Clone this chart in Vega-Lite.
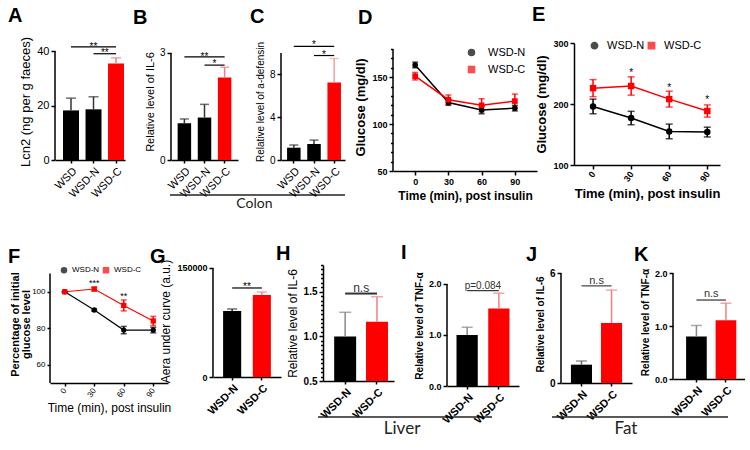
{
"$schema":"https://vega.github.io/schema/vega-lite/v6.json",
"padding":{"left":8,"top":5,"right":0,"bottom":0},
"background":"white",
"spacing":31,
"resolve":{"scale":{"color":"independent","fill":"independent","stroke":"independent","shape":"independent"},"legend":{"color":"independent","shape":"independent"}},
"config":{"font":"Liberation Sans","view":{"stroke":null},
 "axis":{"domainColor":"black","tickColor":"black","labelColor":"black","titleColor":"black","grid":false,"domainWidth":1.5,"tickWidth":1.5,"tickSize":4,"labelFontSize":10,"titleFontWeight":"normal","titleFontSize":12,"labelPadding":2,"titlePadding":4,"labelFont":"Liberation Sans","titleFont":"Liberation Sans"},
 "title":{"fontSize":20,"fontWeight":"bold","anchor":"start","frame":"group","color":"black","baseline":"alphabetic","font":"Liberation Sans"},
 "legend":{"labelFont":"Liberation Sans","labelColor":"black"},
 "text":{"font":"Liberation Sans","color":"#000"}},
"vconcat":[
{"bounds":"flush","spacing":0,
 "resolve":{"scale":{"color":"independent","fill":"independent","stroke":"independent","shape":"independent"},"legend":{"color":"independent","shape":"independent"}},
 "hconcat":[
 {"width":5,"height":1,"data":{"values":[]},"mark":"point"},
 {"width":70,"height":117,"title":{"text":"A","dx":-47,"offset":10},
  "data":{"values":[{"g":"WSD","v":18.2,"hi":22.7},{"g":"WSD-N","v":18.6,"hi":23.2},{"g":"WSD-C","v":35.4,"hi":37.5}]},
  "encoding":{"x":{"field":"g","type":"nominal","title":null,"scale":{"domain":["WSD","WSD-N","WSD-C"],"paddingInner":0.29,"paddingOuter":0.2,"align":0.89},"axis":{"labelAngle":-45,"labelFontSize":11,"tickSize":3}}},
  "layer":[
   {"mark":"bar","encoding":{"y":{"field":"v","type":"quantitative","scale":{"domain":[0,42.94],"nice":false},"axis":{"values":[0,10,20,30,40],"domain":false,"title":"Lcn2 (ng per g faeces)","titleFontSize":13,"labelFontSize":11}},"fill":{"field":"g","type":"nominal","scale":{"domain":["WSD","WSD-N","WSD-C"],"range":["#000","#000","#f00"]},"legend":null}}},
   {"mark":{"type":"rule","strokeWidth":1.5},"encoding":{"y":{"field":"v","type":"quantitative"},"y2":{"field":"hi"},"stroke":{"field":"g","type":"nominal","scale":{"domain":["WSD","WSD-N","WSD-C"],"range":["#333","#333","#f08080"]},"legend":null}}},
   {"mark":{"type":"tick","thickness":1.5,"size":10},"encoding":{"y":{"field":"hi","type":"quantitative"},"color":{"field":"g","type":"nominal","scale":{"domain":["WSD","WSD-N","WSD-C"],"range":["#333","#333","#f08080"]},"legend":null}}},
   {"data":{"values":[{"g":"WSD","y0":0,"y1":40}]},"mark":{"type":"rule","strokeWidth":1.5,"color":"#000"},"encoding":{"x":{"field":"g","type":"nominal","bandPosition":-0.501},"y":{"field":"y0","type":"quantitative"},"y2":{"field":"y1"}}},
   {"data":{"values":[{"from":"WSD","to":"WSD-C","y":41.5},{"from":"WSD-N","to":"WSD-C","y":39}]},"mark":{"type":"rule","strokeWidth":1.2,"color":"#000"},"encoding":{"x":{"field":"from","type":"nominal"},"x2":{"field":"to"},"y":{"field":"y","type":"quantitative"}}},
   {"data":{"values":[{"at":"WSD-N","ty":41.6,"lab":"**"}]},"mark":{"type":"text","fontSize":10,"baseline":"middle","color":"#000"},"encoding":{"x":{"field":"at","type":"nominal"},"y":{"field":"ty","type":"quantitative"},"text":{"field":"lab"}}},
   {"data":{"values":[{"at":"WSD-C","ty":39.1,"lab":"**"}]},"mark":{"type":"text","fontSize":10,"baseline":"middle","color":"#000"},"encoding":{"x":{"field":"at","type":"nominal","bandPosition":-0.2},"y":{"field":"ty","type":"quantitative"},"text":{"field":"lab"}}}
  ]},
 {"width":46,"height":1,"data":{"values":[]},"mark":"point"},
 {"width":67,"height":117,"title":{"text":"B","dx":-38,"offset":15},
  "data":{"values":[{"g":"WSD","v":1.03,"hi":1.15},{"g":"WSD-N","v":1.19,"hi":1.56},{"g":"WSD-C","v":2.31,"hi":2.6}]},
  "encoding":{"x":{"field":"g","type":"nominal","title":null,"scale":{"domain":["WSD","WSD-N","WSD-C"],"paddingInner":0.33,"paddingOuter":0.33},"axis":{"labelAngle":-45,"labelFontSize":11,"tickSize":3}}},
  "layer":[
   {"mark":"bar","encoding":{"y":{"field":"v","type":"quantitative","scale":{"domain":[0,3.28],"nice":false},"axis":{"values":[0,1,2,3],"domain":false,"title":"Relative level of IL-6","titleFontSize":11}},"fill":{"field":"g","type":"nominal","scale":{"domain":["WSD","WSD-N","WSD-C"],"range":["#000","#000","#f00"]},"legend":null}}},
   {"mark":{"type":"rule","strokeWidth":1.5},"encoding":{"y":{"field":"v","type":"quantitative"},"y2":{"field":"hi"},"stroke":{"field":"g","type":"nominal","scale":{"domain":["WSD","WSD-N","WSD-C"],"range":["#333","#333","#f08080"]},"legend":null}}},
   {"mark":{"type":"tick","thickness":1.5,"size":9},"encoding":{"y":{"field":"hi","type":"quantitative"},"color":{"field":"g","type":"nominal","scale":{"domain":["WSD","WSD-N","WSD-C"],"range":["#333","#333","#f08080"]},"legend":null}}},
   {"data":{"values":[{"g":"WSD","y0":0,"y1":3}]},"mark":{"type":"rule","strokeWidth":1.5,"color":"#000"},"encoding":{"x":{"field":"g","type":"nominal","bandPosition":-0.4925},"y":{"field":"y0","type":"quantitative"},"y2":{"field":"y1"}}},
   {"data":{"values":[{"from":"WSD","to":"WSD-C","y":2.89},{"from":"WSD-N","to":"WSD-C","y":2.66}]},"mark":{"type":"rule","strokeWidth":1.2,"color":"#000"},"encoding":{"x":{"field":"from","type":"nominal"},"x2":{"field":"to"},"y":{"field":"y","type":"quantitative"}}},
   {"data":{"values":[{"at":"WSD-N","ty":2.9,"lab":"**"}]},"mark":{"type":"text","fontSize":10,"baseline":"middle","color":"#000"},"encoding":{"x":{"field":"at","type":"nominal"},"y":{"field":"ty","type":"quantitative"},"text":{"field":"lab"}}},
   {"data":{"values":[{"at":"WSD-C","ty":2.68,"lab":"*"}]},"mark":{"type":"text","fontSize":10,"baseline":"middle","color":"#000"},"encoding":{"x":{"field":"at","type":"nominal","bandPosition":-0.25},"y":{"field":"ty","type":"quantitative"},"text":{"field":"lab"}}},
   {"data":{"values":[{"a":"WSD","y":-0.981}]},"mark":{"type":"rule","strokeWidth":1.5,"color":"#222"},"encoding":{"x":{"field":"a","type":"nominal","bandPosition":-0.567},"x2":{"field":"a","bandPosition":12.415},"y":{"field":"y","type":"quantitative"}}},
   {"data":{"values":[{"a":"WSD","y":-1.234,"lab":"Colon"}]},"mark":{"type":"text","fontSize":14,"font":"Lato","color":"#222","baseline":"middle"},"encoding":{"x":{"field":"a","type":"nominal","bandPosition":5.70},"y":{"field":"y","type":"quantitative"},"text":{"field":"lab"}}}
  ]},
 {"width":43,"height":1,"data":{"values":[]},"mark":"point"},
 {"width":64,"height":117,"title":{"text":"C","dx":-31,"offset":13},
  "data":{"values":[{"g":"WSD","v":1.15,"hi":1.4},{"g":"WSD-N","v":1.5,"hi":1.86},{"g":"WSD-C","v":7.25,"hi":9.48}]},
  "encoding":{"x":{"field":"g","type":"nominal","title":null,"scale":{"domain":["WSD","WSD-N","WSD-C"],"paddingInner":0.33,"paddingOuter":0.25,"align":0.6},"axis":{"labelAngle":-45,"labelFontSize":11,"tickSize":3}}},
  "layer":[
   {"mark":"bar","encoding":{"y":{"field":"v","type":"quantitative","scale":{"domain":[0,10.93],"nice":false},"axis":{"values":[0,2,4,6,8,10],"domain":false,"title":"Relative level of a-defensin","titleFontSize":10}},"fill":{"field":"g","type":"nominal","scale":{"domain":["WSD","WSD-N","WSD-C"],"range":["#000","#000","#f00"]},"legend":null}}},
   {"mark":{"type":"rule","strokeWidth":1.5},"encoding":{"y":{"field":"v","type":"quantitative"},"y2":{"field":"hi"},"stroke":{"field":"g","type":"nominal","scale":{"domain":["WSD","WSD-N","WSD-C"],"range":["#333","#333","#f4a0a0"]},"legend":null}}},
   {"mark":{"type":"tick","thickness":1.5,"size":9},"encoding":{"y":{"field":"hi","type":"quantitative"},"color":{"field":"g","type":"nominal","scale":{"domain":["WSD","WSD-N","WSD-C"],"range":["#333","#333","#f4a0a0"]},"legend":null}}},
   {"data":{"values":[{"g":"WSD","y0":0,"y1":10}]},"mark":{"type":"rule","strokeWidth":1.5,"color":"#000"},"encoding":{"x":{"field":"g","type":"nominal","bandPosition":-0.448},"y":{"field":"y0","type":"quantitative"},"y2":{"field":"y1"}}},
   {"data":{"values":[{"from":"WSD","to":"WSD-C","y":10.62},{"from":"WSD-N","to":"WSD-C","y":9.76}]},"mark":{"type":"rule","strokeWidth":1.2,"color":"#000"},"encoding":{"x":{"field":"from","type":"nominal"},"x2":{"field":"to"},"y":{"field":"y","type":"quantitative"}}},
   {"data":{"values":[{"at":"WSD-N","ty":10.7,"lab":"*"}]},"mark":{"type":"text","fontSize":10,"baseline":"middle","color":"#000"},"encoding":{"x":{"field":"at","type":"nominal"},"y":{"field":"ty","type":"quantitative"},"text":{"field":"lab"}}},
   {"data":{"values":[{"at":"WSD-C","ty":9.85,"lab":"*"}]},"mark":{"type":"text","fontSize":10,"baseline":"middle","color":"#000"},"encoding":{"x":{"field":"at","type":"nominal","bandPosition":-0.25},"y":{"field":"ty","type":"quantitative"},"text":{"field":"lab"}}}
  ]},
 {"width":48,"height":1,"data":{"values":[]},"mark":"point"},
 {"width":144,"height":128,"title":{"text":"D","dx":-35,"offset":15},
  "data":{"values":[
   {"t":0,"s":"WSD-N","m":163,"lo":160,"hi":166},{"t":30,"s":"WSD-N","m":123,"lo":120,"hi":126},{"t":60,"s":"WSD-N","m":115,"lo":111,"hi":119},{"t":90,"s":"WSD-N","m":117,"lo":114,"hi":120},
   {"t":0,"s":"WSD-C","m":151,"lo":147,"hi":155},{"t":30,"s":"WSD-C","m":126,"lo":121,"hi":131},{"t":60,"s":"WSD-C","m":120,"lo":113,"hi":127},{"t":90,"s":"WSD-C","m":124.5,"lo":117,"hi":132}]},
  "encoding":{"x":{"field":"t","type":"quantitative","scale":{"domain":[-20,110],"nice":false},"axis":{"values":[0,30,60,90],"title":"Time (min), post insulin","labelAngle":0,"labelFontWeight":"bold","labelFontSize":9,"titleFontWeight":"bold","titleFontSize":12,"tickSize":4}},
   "color":{"field":"s","type":"nominal","scale":{"domain":["WSD-N","WSD-C"],"range":["#000","#f00"]},"legend":{"orient":"none","legendX":73,"legendY":4,"title":null,"padding":0,"labelFontSize":11,"symbolSize":36,"labelOffset":11,"rowPadding":4}}},
  "layer":[
   {"mark":{"type":"line","strokeWidth":1.5},"encoding":{"y":{"field":"m","type":"quantitative","scale":{"domain":[50,186.4],"nice":false},"axis":{"orient":"left","values":[50,100,150],"domain":false,"title":"Glucose (mg/dl)","titleFontWeight":"bold","titleFontSize":13,"labelFontWeight":"bold","labelFontSize":9}}}},
   {"mark":{"type":"rule","strokeWidth":1.5},"encoding":{"y":{"field":"lo","type":"quantitative","axis":{"orient":"left","values":[60,70,80,90,110,120,130,140,160,170,180],"labels":false,"domain":false,"tickSize":2.5,"title":null}},"y2":{"field":"hi"}}},
   {"data":{"values":[{"t":-20,"y0":50,"y1":180}]},"mark":{"type":"rule","strokeWidth":1.5},"encoding":{"y":{"field":"y0","type":"quantitative","axis":null},"y2":{"field":"y1"},"color":{"value":"#000"}}},
   {"mark":{"type":"tick","thickness":1.5,"size":6,"orient":"horizontal"},"encoding":{"y":{"field":"lo","type":"quantitative","axis":null}}},
   {"mark":{"type":"tick","thickness":1.5,"size":6,"orient":"horizontal"},"encoding":{"y":{"field":"hi","type":"quantitative","axis":null}}},
   {"mark":{"type":"point","filled":true,"size":32,"opacity":1},"encoding":{"y":{"field":"m","type":"quantitative","axis":null},
     "shape":{"field":"s","type":"nominal","scale":{"domain":["WSD-N","WSD-C"],"range":["circle","square"]},"legend":{"orient":"none","legendX":73,"legendY":4,"title":null,"padding":0,"labelFontSize":11,"symbolSize":36,"labelOffset":11,"rowPadding":4}}}}
  ],
  "resolve":{"axis":{"y":"independent"}}},
 {"width":37,"height":1,"data":{"values":[]},"mark":"point"},
 {"width":146,"height":122,"title":{"text":"E","dx":-42,"offset":14},
  "data":{"values":[
   {"t":0,"s":"WSD-N","m":196,"lo":184,"hi":208},{"t":30,"s":"WSD-N","m":177,"lo":166,"hi":188},{"t":60,"s":"WSD-N","m":155,"lo":143,"hi":167},{"t":90,"s":"WSD-N","m":154,"lo":146,"hi":162},
   {"t":0,"s":"WSD-C","m":226,"lo":212,"hi":240},{"t":30,"s":"WSD-C","m":229.5,"lo":214.5,"hi":244.5},{"t":60,"s":"WSD-C","m":208,"lo":195,"hi":221},{"t":90,"s":"WSD-C","m":188.5,"lo":178.5,"hi":198.5}]},
  "encoding":{"x":{"field":"t","type":"quantitative","scale":{"domain":[-15,100],"nice":false},"axis":{"values":[0,30,60,90],"title":"Time (min), post insulin","labelAngle":-55,"labelFontWeight":"bold","labelFontSize":9,"titleFontWeight":"bold","titleFontSize":13,"tickSize":4,"labelPadding":3}},
   "color":{"field":"s","type":"nominal","scale":{"domain":["WSD-N","WSD-C"],"range":["#000","#f00"]},"legend":{"orient":"none","legendX":15,"legendY":-3,"direction":"horizontal","title":null,"padding":0,"labelFontSize":11,"symbolSize":40,"labelOffset":7,"columnPadding":0}}},
  "layer":[
   {"mark":{"type":"line","strokeWidth":1.5},"encoding":{"y":{"field":"m","type":"quantitative","scale":{"domain":[100,300],"nice":false},"axis":{"values":[100,150,200,250,300],"title":"Glucose (mg/dl)","titleFontWeight":"bold","titleFontSize":13,"labelFontWeight":"bold","labelFontSize":9}}}},
   {"mark":{"type":"rule","strokeWidth":1.5},"encoding":{"y":{"field":"lo","type":"quantitative"},"y2":{"field":"hi"}}},
   {"mark":{"type":"tick","thickness":1.5,"size":7,"orient":"horizontal"},"encoding":{"y":{"field":"lo","type":"quantitative"}}},
   {"mark":{"type":"tick","thickness":1.5,"size":7,"orient":"horizontal"},"encoding":{"y":{"field":"hi","type":"quantitative"}}},
   {"mark":{"type":"point","filled":true,"size":42,"opacity":1},"encoding":{"y":{"field":"m","type":"quantitative"},
     "shape":{"field":"s","type":"nominal","scale":{"domain":["WSD-N","WSD-C"],"range":["circle","square"]},"legend":{"orient":"none","legendX":15,"legendY":-3,"direction":"horizontal","title":null,"padding":0,"labelFontSize":11,"symbolSize":40,"labelOffset":7,"columnPadding":0}}}},
   {"data":{"values":[{"t":30,"y":251,"lab":"*"},{"t":60,"y":226,"lab":"*"},{"t":90,"y":206,"lab":"*"}]},"mark":{"type":"text","fontSize":10,"baseline":"middle","color":"#000"},"encoding":{"y":{"field":"y","type":"quantitative"},"text":{"field":"lab"},"color":{"value":"#000"}}}
  ]}
]},
{"bounds":"flush","spacing":0,
 "resolve":{"scale":{"color":"independent","fill":"independent","stroke":"independent","shape":"independent"},"legend":{"color":"independent","shape":"independent"}},
 "hconcat":[
 {"width":118,"height":118,"title":{"text":"F","dx":-42,"offset":-2},
  "data":{"values":[
   {"t":0,"s":"WSD-N","m":100,"lo":100,"hi":100},{"t":30,"s":"WSD-N","m":90,"lo":89.4,"hi":90.6},{"t":60,"s":"WSD-N","m":79,"lo":77,"hi":81},{"t":90,"s":"WSD-N","m":79,"lo":77.5,"hi":80.5},
   {"t":0,"s":"WSD-C","m":100,"lo":100,"hi":100},{"t":30,"s":"WSD-C","m":101.5,"lo":100.5,"hi":102.5},{"t":60,"s":"WSD-C","m":92.5,"lo":89.5,"hi":95.5},{"t":90,"s":"WSD-C","m":84,"lo":81.5,"hi":86.5}]},
  "encoding":{"x":{"field":"t","type":"quantitative","scale":{"domain":[-15,105],"nice":false},"axis":{"values":[0,30,60,90],"title":"Time (min), post insulin","labelAngle":-55,"labelFontSize":8,"titleFontSize":12,"tickSize":3,"labelPadding":3}},
   "color":{"field":"s","type":"nominal","scale":{"domain":["WSD-N","WSD-C"],"range":["#000","#f00"]},"legend":{"orient":"none","legendX":10,"legendY":1,"direction":"horizontal","title":null,"padding":0,"labelFontSize":8,"symbolSize":25,"labelOffset":4,"columnPadding":0}}},
  "layer":[
   {"mark":{"type":"line","strokeWidth":1.2},"encoding":{"y":{"field":"m","type":"quantitative","scale":{"domain":[50,114.66],"nice":false},"axis":{"values":[60,80,100],"domain":false,"title":["Percentage of initial","glucose level"],"titleFontWeight":"bold","titleFontSize":11,"titleLineHeight":11,"labelFontSize":8,"tickSize":3,"titlePadding":0}}}},
   {"mark":{"type":"rule","strokeWidth":1.5},"encoding":{"y":{"field":"lo","type":"quantitative"},"y2":{"field":"hi"}}},
   {"data":{"values":[{"t":-15,"y0":50,"y1":110}]},"mark":{"type":"rule","strokeWidth":1.5},"encoding":{"y":{"field":"y0","type":"quantitative"},"y2":{"field":"y1"},"color":{"value":"#000"}}},
   {"mark":{"type":"tick","thickness":1.5,"size":6,"orient":"horizontal"},"encoding":{"y":{"field":"lo","type":"quantitative"}}},
   {"mark":{"type":"tick","thickness":1.5,"size":6,"orient":"horizontal"},"encoding":{"y":{"field":"hi","type":"quantitative"}}},
   {"mark":{"type":"point","filled":true,"size":28,"opacity":1},"encoding":{"y":{"field":"m","type":"quantitative"},
     "shape":{"field":"s","type":"nominal","scale":{"domain":["WSD-N","WSD-C"],"range":["circle","square"]},"legend":{"orient":"none","legendX":10,"legendY":1,"direction":"horizontal","title":null,"padding":0,"labelFontSize":8,"symbolSize":25,"labelOffset":4,"columnPadding":0}}}},
   {"data":{"values":[{"t":30,"y":105,"lab":"***"},{"t":60,"y":97.6,"lab":"**"}]},"mark":{"type":"text","fontSize":9,"baseline":"middle","color":"#000"},"encoding":{"y":{"field":"y","type":"quantitative"},"text":{"field":"lab"},"color":{"value":"#000"}}}
  ]},
 {"width":45,"height":1,"data":{"values":[]},"mark":"point"},
 {"width":68,"height":112,"title":{"text":"G","dx":-63,"offset":-8},
  "data":{"values":[{"g":"WSD-N","v":90800,"hi":93600},{"g":"WSD-C","v":113000,"hi":117000}]},
  "encoding":{"x":{"field":"g","type":"nominal","title":null,"scale":{"domain":["WSD-N","WSD-C"],"paddingInner":0.39,"paddingOuter":0.34},"axis":{"labelAngle":-45,"labelFontSize":11,"labelFontWeight":"bold","tickSize":3}}},
  "layer":[
   {"mark":"bar","encoding":{"y":{"field":"v","type":"quantitative","scale":{"domain":[0,154128],"nice":false},"axis":{"values":[0,50000,100000,150000],"domain":false,"format":"d","title":"Aera under curve (a.u.)","titleFontSize":12,"labelFontWeight":"bold","labelFontSize":9}},"fill":{"field":"g","type":"nominal","scale":{"domain":["WSD-N","WSD-C"],"range":["#000","#f00"]},"legend":null}}},
   {"mark":{"type":"rule","strokeWidth":1.5},"encoding":{"y":{"field":"v","type":"quantitative"},"y2":{"field":"hi"},"stroke":{"field":"g","type":"nominal","scale":{"domain":["WSD-N","WSD-C"],"range":["#333","#f08080"]},"legend":null}}},
   {"mark":{"type":"tick","thickness":1.5,"size":10},"encoding":{"y":{"field":"hi","type":"quantitative"},"color":{"field":"g","type":"nominal","scale":{"domain":["WSD-N","WSD-C"],"range":["#333","#f08080"]},"legend":null}}},
   {"data":{"values":[{"g":"WSD-N","y0":0,"y1":150000}]},"mark":{"type":"rule","strokeWidth":1.5,"color":"#000"},"encoding":{"x":{"field":"g","type":"nominal","bandPosition":-0.558},"y":{"field":"y0","type":"quantitative"},"y2":{"field":"y1"}}},
   {"data":{"values":[{"from":"WSD-N","to":"WSD-C","y":122500}]},"mark":{"type":"rule","strokeWidth":1.2,"color":"#000"},"encoding":{"x":{"field":"from","type":"nominal"},"x2":{"field":"to"},"y":{"field":"y","type":"quantitative"}}},
   {"data":{"values":[{"at":"WSD-C","ty":123500,"lab":"**"}]},"mark":{"type":"text","fontSize":10,"baseline":"middle","color":"#000"},"encoding":{"x":{"field":"at","type":"nominal","bandPosition":-0.32},"y":{"field":"ty","type":"quantitative"},"text":{"field":"lab"}}}
  ]},
 {"width":42,"height":1,"data":{"values":[]},"mark":"point"},
 {"width":71,"height":116,"title":{"text":"H","dx":-47,"offset":0},
  "data":{"values":[{"g":"WSD-N","v":1.0,"hi":1.27},{"g":"WSD-C","v":1.165,"hi":1.445}]},
  "encoding":{"x":{"field":"g","type":"nominal","title":null,"scale":{"domain":["WSD-N","WSD-C"],"paddingInner":0.31,"paddingOuter":0.27,"align":0.65},"axis":{"labelAngle":-45,"labelFontSize":11,"labelFontWeight":"bold","tickSize":3}}},
  "layer":[
   {"mark":"bar","encoding":{"y":{"field":"v","type":"quantitative","scale":{"domain":[0.5,1.8],"zero":false,"nice":false},"axis":{"orient":"left","values":[0.5,1.0,1.5],"format":".1f","title":"Relative level of IL-6","titleFontSize":12,"labelFontWeight":"bold","labelFontSize":10}},"y2":{"datum":0.5},"fill":{"field":"g","type":"nominal","scale":{"domain":["WSD-N","WSD-C"],"range":["#000","#f00"]},"legend":null}}},
   {"mark":{"type":"rule","strokeWidth":1.5},"encoding":{"y":{"field":"v","type":"quantitative","axis":{"orient":"left","values":[0.55,0.6,0.65,0.7,0.75,0.8,0.85,0.9,0.95,1.05,1.1,1.15,1.2,1.25,1.3,1.35,1.4,1.45,1.55,1.6,1.65,1.7,1.75,1.8],"labels":false,"domain":false,"tickSize":2.5,"title":null}},"y2":{"field":"hi"},"stroke":{"field":"g","type":"nominal","scale":{"domain":["WSD-N","WSD-C"],"range":["#888","#f08080"]},"legend":null}}},
   {"mark":{"type":"tick","thickness":1.5,"size":12},"encoding":{"y":{"field":"hi","type":"quantitative","axis":null},"color":{"field":"g","type":"nominal","scale":{"domain":["WSD-N","WSD-C"],"range":["#888","#f08080"]},"legend":null}}},
   {"data":{"values":[{"from":"WSD-N","to":"WSD-C","y":1.48}]},"mark":{"type":"rule","strokeWidth":2,"color":"#333"},"encoding":{"x":{"field":"from","type":"nominal"},"x2":{"field":"to"},"y":{"field":"y","type":"quantitative","axis":null}}},
   {"data":{"values":[{"at":"WSD-C","ty":1.545,"lab":"n.s"}]},"mark":{"type":"text","fontSize":12,"baseline":"middle","color":"#333"},"encoding":{"x":{"field":"at","type":"nominal","bandPosition":-0.22},"y":{"field":"ty","type":"quantitative","axis":null},"text":{"field":"lab"}}},
   {"data":{"values":[{"a":"WSD-N","y":0.0966}]},"mark":{"type":"rule","strokeWidth":1.5,"color":"#222"},"encoding":{"x":{"field":"a","type":"nominal","bandPosition":-0.736},"x2":{"field":"a","bandPosition":7.183},"y":{"field":"y","type":"quantitative","axis":null}}},
   {"data":{"values":[{"a":"WSD-N","y":-0.038,"lab":"Liver"}]},"mark":{"type":"text","fontSize":17,"font":"Lato","color":"#222","baseline":"middle"},"encoding":{"x":{"field":"a","type":"nominal","bandPosition":3.09},"y":{"field":"y","type":"quantitative","axis":null},"text":{"field":"lab"}}}
  ],
  "resolve":{"axis":{"y":"independent"}}},
 {"width":53,"height":1,"data":{"values":[]},"mark":"point"},
 {"width":72,"height":121,"title":{"text":"I","dx":-46,"offset":2},
  "data":{"values":[{"g":"WSD-N","v":1.0,"hi":1.15},{"g":"WSD-C","v":1.52,"hi":1.82}]},
  "encoding":{"x":{"field":"g","type":"nominal","title":null,"scale":{"domain":["WSD-N","WSD-C"],"paddingInner":0.33,"paddingOuter":0.3},"axis":{"labelAngle":-45,"labelFontSize":11,"labelFontWeight":"bold","tickSize":3}}},
  "layer":[
   {"mark":"bar","encoding":{"y":{"field":"v","type":"quantitative","scale":{"domain":[0,2.3725],"nice":false},"axis":{"values":[0,0.5,1,1.5,2],"domain":false,"format":".1f","title":"Relative level of TNF-α","titleFontSize":10,"titleFontWeight":"bold","labelFontWeight":"bold","labelFontSize":9}},"fill":{"field":"g","type":"nominal","scale":{"domain":["WSD-N","WSD-C"],"range":["#000","#f00"]},"legend":null}}},
   {"mark":{"type":"rule","strokeWidth":1.5},"encoding":{"y":{"field":"v","type":"quantitative"},"y2":{"field":"hi"},"stroke":{"field":"g","type":"nominal","scale":{"domain":["WSD-N","WSD-C"],"range":["#888","#f08080"]},"legend":null}}},
   {"mark":{"type":"tick","thickness":1.5,"size":11},"encoding":{"y":{"field":"hi","type":"quantitative"},"color":{"field":"g","type":"nominal","scale":{"domain":["WSD-N","WSD-C"],"range":["#888","#f08080"]},"legend":null}}},
   {"data":{"values":[{"g":"WSD-N","y0":0,"y1":2}]},"mark":{"type":"rule","strokeWidth":1.5,"color":"#000"},"encoding":{"x":{"field":"g","type":"nominal","bandPosition":-0.4476},"y":{"field":"y0","type":"quantitative"},"y2":{"field":"y1"}}},
   {"data":{"values":[{"from":"WSD-N","to":"WSD-C","y":1.87}]},"mark":{"type":"rule","strokeWidth":1.2,"color":"#333"},"encoding":{"x":{"field":"from","type":"nominal"},"x2":{"field":"to"},"y":{"field":"y","type":"quantitative"}}},
   {"data":{"values":[{"at":"WSD-C","ty":1.97,"lab":"p=0.084"}]},"mark":{"type":"text","fontSize":10,"baseline":"middle","color":"#333"},"encoding":{"x":{"field":"at","type":"nominal","bandPosition":-0.25},"y":{"field":"ty","type":"quantitative"},"text":{"field":"lab"}}}
  ]},
 {"width":42,"height":1,"data":{"values":[]},"mark":"point"},
 {"width":71,"height":118,"title":{"text":"J","dx":-35,"offset":0},
  "data":{"values":[{"g":"WSD-N","v":1.0,"hi":1.2},{"g":"WSD-C","v":3.27,"hi":5.07}]},
  "encoding":{"x":{"field":"g","type":"nominal","title":null,"scale":{"domain":["WSD-N","WSD-C"],"paddingInner":0.3,"paddingOuter":0.33},"axis":{"labelAngle":-45,"labelFontSize":11,"labelFontWeight":"bold","tickSize":3}}},
  "layer":[
   {"mark":"bar","encoding":{"y":{"field":"v","type":"quantitative","scale":{"domain":[0,6.437],"nice":false},"axis":{"values":[0,2,4,6],"domain":false,"title":"Relative level of IL-6","titleFontSize":10,"titleFontWeight":"bold","labelFontWeight":"bold","labelFontSize":10}},"fill":{"field":"g","type":"nominal","scale":{"domain":["WSD-N","WSD-C"],"range":["#000","#f00"]},"legend":null}}},
   {"mark":{"type":"rule","strokeWidth":1.5},"encoding":{"y":{"field":"v","type":"quantitative"},"y2":{"field":"hi"},"stroke":{"field":"g","type":"nominal","scale":{"domain":["WSD-N","WSD-C"],"range":["#666","#f08080"]},"legend":null}}},
   {"mark":{"type":"tick","thickness":1.5,"size":11},"encoding":{"y":{"field":"hi","type":"quantitative"},"color":{"field":"g","type":"nominal","scale":{"domain":["WSD-N","WSD-C"],"range":["#666","#f08080"]},"legend":null}}},
   {"data":{"values":[{"g":"WSD-N","y0":0,"y1":6}]},"mark":{"type":"rule","strokeWidth":1.5,"color":"#000"},"encoding":{"x":{"field":"g","type":"nominal","bandPosition":-0.4716},"y":{"field":"y0","type":"quantitative"},"y2":{"field":"y1"}}},
   {"data":{"values":[{"from":"WSD-N","to":"WSD-C","y":5.3}]},"mark":{"type":"rule","strokeWidth":1.5,"color":"#666"},"encoding":{"x":{"field":"from","type":"nominal"},"x2":{"field":"to"},"y":{"field":"y","type":"quantitative"}}},
   {"data":{"values":[{"at":"WSD-C","ty":5.55,"lab":"n.s"}]},"mark":{"type":"text","fontSize":11,"baseline":"middle","color":"#333"},"encoding":{"x":{"field":"at","type":"nominal","bandPosition":-0.21},"y":{"field":"ty","type":"quantitative"},"text":{"field":"lab"}}},
   {"data":{"values":[{"a":"WSD-N","y":-1.855}]},"mark":{"type":"rule","strokeWidth":1.5,"color":"#222"},"encoding":{"x":{"field":"a","type":"nominal","bandPosition":-0.899},"x2":{"field":"a","bandPosition":7.458},"y":{"field":"y","type":"quantitative"}}},
   {"data":{"values":[{"a":"WSD-N","y":-2.51,"lab":"Fat"}]},"mark":{"type":"text","fontSize":17,"font":"Lato","color":"#222","baseline":"middle"},"encoding":{"x":{"field":"a","type":"nominal","bandPosition":2.615},"y":{"field":"y","type":"quantitative"},"text":{"field":"lab"}}}
  ]},
 {"width":41,"height":1,"data":{"values":[]},"mark":"point"},
 {"width":72,"height":114,"title":{"text":"K","dx":-39,"offset":0},
  "data":{"values":[{"g":"WSD-N","v":0.8,"hi":1.01},{"g":"WSD-C","v":1.11,"hi":1.43}]},
  "encoding":{"x":{"field":"g","type":"nominal","title":null,"scale":{"domain":["WSD-N","WSD-C"],"paddingInner":0.3,"paddingOuter":0.37,"align":0.6},"axis":{"labelAngle":-45,"labelFontSize":11,"labelFontWeight":"bold","tickSize":3}}},
  "layer":[
   {"mark":"bar","encoding":{"y":{"field":"v","type":"quantitative","scale":{"domain":[0,2.151],"nice":false},"axis":{"values":[0,0.5,1,1.5,2],"domain":false,"format":".1f","title":"Relative level of TNF-α","titleFontSize":10,"titleFontWeight":"bold","labelFontWeight":"bold","labelFontSize":9}},"fill":{"field":"g","type":"nominal","scale":{"domain":["WSD-N","WSD-C"],"range":["#000","#f00"]},"legend":null}}},
   {"mark":{"type":"rule","strokeWidth":1.5},"encoding":{"y":{"field":"v","type":"quantitative"},"y2":{"field":"hi"},"stroke":{"field":"g","type":"nominal","scale":{"domain":["WSD-N","WSD-C"],"range":["#888","#f08080"]},"legend":null}}},
   {"mark":{"type":"tick","thickness":1.5,"size":11},"encoding":{"y":{"field":"hi","type":"quantitative"},"color":{"field":"g","type":"nominal","scale":{"domain":["WSD-N","WSD-C"],"range":["#888","#f08080"]},"legend":null}}},
   {"data":{"values":[{"g":"WSD-N","y0":0,"y1":2}]},"mark":{"type":"rule","strokeWidth":1.5,"color":"#000"},"encoding":{"x":{"field":"g","type":"nominal","bandPosition":-0.634},"y":{"field":"y0","type":"quantitative"},"y2":{"field":"y1"}}},
   {"data":{"values":[{"from":"WSD-N","to":"WSD-C","y":1.49}]},"mark":{"type":"rule","strokeWidth":1.2,"color":"#333"},"encoding":{"x":{"field":"from","type":"nominal"},"x2":{"field":"to"},"y":{"field":"y","type":"quantitative"}}},
   {"data":{"values":[{"at":"WSD-C","ty":1.6,"lab":"n.s"}]},"mark":{"type":"text","fontSize":11,"baseline":"middle","color":"#333"},"encoding":{"x":{"field":"at","type":"nominal","bandPosition":-0.21},"y":{"field":"ty","type":"quantitative"},"text":{"field":"lab"}}}
  ]}
]}
]
}
